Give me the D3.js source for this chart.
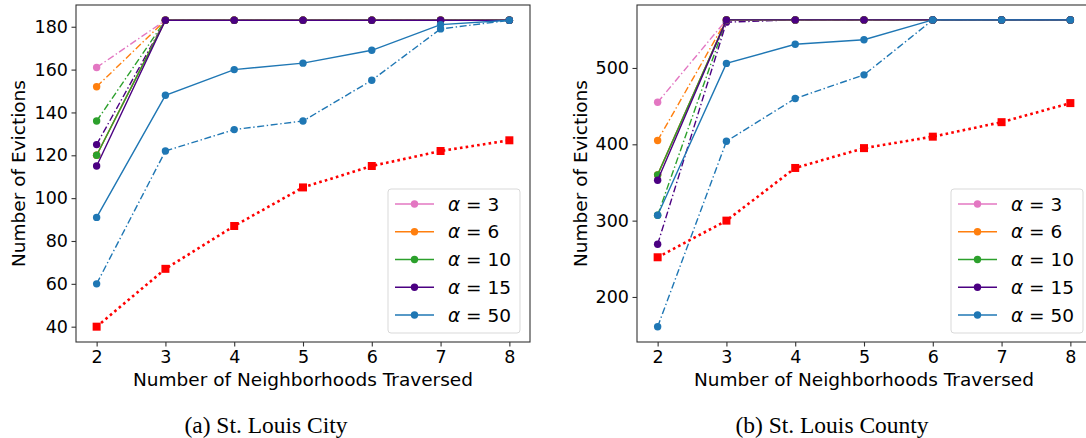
<!DOCTYPE html>
<html>
<head>
<meta charset="utf-8">
<script src="https://cdn.jsdelivr.net/npm/d3@7"></script>
<style>
  html, body { margin: 0; padding: 0; background: #fff; }
  svg { display: block; }
  .tick text { font-family: "DejaVu Sans", sans-serif; font-size: 17.5px; fill: #000; }
  .axis path.domain { stroke: #333; stroke-width: 1.1; }
  .axis .tick line { stroke: #333; stroke-width: 1.1; }
</style>
</head>
<body>
<svg id="chart" width="1086" height="438"></svg>
<script>
// ---------- data ----------
const neighborhoods = [2, 3, 4, 5, 6, 7, 8];
const alphas = [3, 6, 10, 15, 50];
const alphaColors = ["#e377c2", "#ff7f0e", "#2ca02c", "#4b0082", "#1f77b4"];

// St. Louis City — solid (labelled) series per alpha
const cityA3  = [120, 183, 183, 183, 183, 183, 183];
const cityA6  = [120, 183, 183, 183, 183, 183, 183];
const cityA10 = [120, 183, 183, 183, 183, 183, 183];
const cityA15 = [115, 183, 183, 183, 183, 183, 183];
const cityA50 = [91, 148, 160, 163, 169, 181, 183];
// St. Louis City — dash-dot series per alpha
const cityAltA3  = [161, 183, 183, 183, 183, 183, 183];
const cityAltA6  = [152, 183, 183, 183, 183, 183, 183];
const cityAltA10 = [136, 183, 183, 183, 183, 183, 183];
const cityAltA15 = [125, 183, 183, 183, 183, 183, 183];
const cityAltA50 = [60, 122, 132, 136, 155, 179, 183];
// St. Louis City — baseline (red dotted squares)
const cityBaseline = [40, 67, 87, 105, 115, 122, 127];

// St. Louis County — solid series per alpha
const countyA3  = [360, 563, 563, 563, 563, 563, 563];
const countyA6  = [360, 563, 563, 563, 563, 563, 563];
const countyA10 = [360, 563, 563, 563, 563, 563, 563];
const countyA15 = [353, 563, 563, 563, 563, 563, 563];
const countyA50 = [307, 506, 531, 537, 563, 563, 563];
// St. Louis County — dash-dot series per alpha
const countyAltA3  = [455, 563, 563, 563, 563, 563, 563];
const countyAltA6  = [405, 563, 563, 563, 563, 563, 563];
const countyAltA10 = [307, 563, 563, 563, 563, 563, 563];
const countyAltA15 = [269, 560, 563, 563, 563, 563, 563];
const countyAltA50 = [161, 404, 460, 491, 563, 563, 563];
// St. Louis County — baseline
const countyBaseline = [252, 300, 369, 395, 410, 429, 454];

const cityTicks = [40, 60, 80, 100, 120, 140, 160, 180];
const countyTicks = [200, 300, 400, 500];
const xTicks = [2, 3, 4, 5, 6, 7, 8];

const xLabel = "Number of Neighborhoods Traversed";
const yLabel = "Number of Evictions";
const captions = ["(a) St. Louis City", "(b) St. Louis County"];

// ---------- drawing ----------
const svg = d3.select("#chart");
const LABEL_FS = 18.5;

const panels = [
  {
    x0: 76, x1: 530, y0: 5, y1: 342,
    yDomain: [32.85, 190.15], yTicks: cityTicks,
    solid: [cityA3, cityA6, cityA10, cityA15, cityA50],
    alt: [cityAltA3, cityAltA6, cityAltA10, cityAltA15, cityAltA50],
    base: cityBaseline,
    yLabelX: 25, legend: { x: 388, y: 189, w: 132, h: 144 },
    caption: captions[0], captionX: 266
  },
  {
    x0: 637, x1: 1091, y0: 5, y1: 342,
    yDomain: [141, 582.5], yTicks: countyTicks,
    solid: [countyA3, countyA6, countyA10, countyA15, countyA50],
    alt: [countyAltA3, countyAltA6, countyAltA10, countyAltA15, countyAltA50],
    base: countyBaseline,
    yLabelX: 587, legend: { x: 951, y: 189, w: 132, h: 144 },
    caption: captions[1], captionX: 832
  }
];

panels.forEach(p => {
  const x = d3.scaleLinear().domain([1.7, 8.3]).range([p.x0, p.x1]);
  const y = d3.scaleLinear().domain(p.yDomain).range([p.y1, p.y0]);
  const g = svg.append("g");

  const line = d3.line().x((d, i) => x(neighborhoods[i])).y(d => y(d));

  // dash-dot series
  p.alt.forEach((vals, k) => {
    g.append("path").datum(vals).attr("d", line)
      .attr("fill", "none").attr("stroke", alphaColors[k]).attr("stroke-width", 1.4)
      .attr("stroke-dasharray", "7,2.6,1.4,2.6");
    g.selectAll(null).data(vals).enter().append("circle")
      .attr("cx", (d, i) => x(neighborhoods[i])).attr("cy", d => y(d))
      .attr("r", 3.7).attr("fill", alphaColors[k]);
  });
  // solid series
  p.solid.forEach((vals, k) => {
    g.append("path").datum(vals).attr("d", line)
      .attr("fill", "none").attr("stroke", alphaColors[k]).attr("stroke-width", 1.4);
    g.selectAll(null).data(vals).enter().append("circle")
      .attr("cx", (d, i) => x(neighborhoods[i])).attr("cy", d => y(d))
      .attr("r", 3.7).attr("fill", alphaColors[k]);
  });
  // baseline
  g.append("path").datum(p.base).attr("d", line)
    .attr("fill", "none").attr("stroke", "#ff0000").attr("stroke-width", 2.6)
    .attr("stroke-dasharray", "2.6,3.2");
  g.selectAll(null).data(p.base).enter().append("rect")
    .attr("x", (d, i) => x(neighborhoods[i]) - 4).attr("y", d => y(d) - 4)
    .attr("width", 8).attr("height", 8).attr("fill", "#ff0000");

  // frame
  g.append("rect").attr("x", p.x0).attr("y", p.y0)
    .attr("width", p.x1 - p.x0).attr("height", p.y1 - p.y0)
    .attr("fill", "none").attr("stroke", "#333").attr("stroke-width", 1.1);

  // axes
  g.append("g").attr("class", "axis").attr("transform", `translate(0,${p.y1})`)
    .call(d3.axisBottom(x).tickValues(xTicks).tickFormat(d3.format("d")).tickSizeOuter(0).tickSize(4.5).tickPadding(4.5))
    .call(a => a.select(".domain").remove());
  g.append("g").attr("class", "axis").attr("transform", `translate(${p.x0},0)`)
    .call(d3.axisLeft(y).tickValues(p.yTicks).tickFormat(d3.format("d")).tickSizeOuter(0).tickSize(4.5).tickPadding(3.5))
    .call(a => a.select(".domain").remove());

  // axis labels
  g.append("text").attr("x", (p.x0 + p.x1) / 2).attr("y", 386)
    .attr("text-anchor", "middle").attr("font-family", "DejaVu Sans, sans-serif")
    .attr("font-size", LABEL_FS).text(xLabel);
  g.append("text").attr("transform", `translate(${p.yLabelX},${(p.y0 + p.y1) / 2}) rotate(-90)`)
    .attr("text-anchor", "middle").attr("font-family", "DejaVu Sans, sans-serif")
    .attr("font-size", LABEL_FS).text(yLabel);

  // legend
  const L = p.legend;
  g.append("rect").attr("x", L.x).attr("y", L.y).attr("width", L.w).attr("height", L.h)
    .attr("rx", 3).attr("fill", "#fff").attr("fill-opacity", 0.8)
    .attr("stroke", "#d9d9d9").attr("stroke-width", 1);
  alphas.forEach((a, k) => {
    const ly = L.y + 15 + k * 27.75;
    g.append("line").attr("x1", L.x + 7).attr("x2", L.x + 46).attr("y1", ly).attr("y2", ly)
      .attr("stroke", alphaColors[k]).attr("stroke-width", 1.4);
    g.append("circle").attr("cx", L.x + 26.5).attr("cy", ly).attr("r", 3.7).attr("fill", alphaColors[k]);
    const t = g.append("text").attr("x", L.x + 60).attr("y", ly).attr("dy", "0.36em")
      .attr("font-family", "DejaVu Sans, sans-serif").attr("font-size", LABEL_FS);
    t.append("tspan").attr("font-style", "italic").text("α");
    t.append("tspan").text(" = " + a);
  });

  // caption
  svg.append("text").attr("x", p.captionX).attr("y", 433)
    .attr("text-anchor", "middle").attr("font-family", "Liberation Serif, serif")
    .attr("font-size", 23.5).text(p.caption);
});
</script>
</body>
</html>
